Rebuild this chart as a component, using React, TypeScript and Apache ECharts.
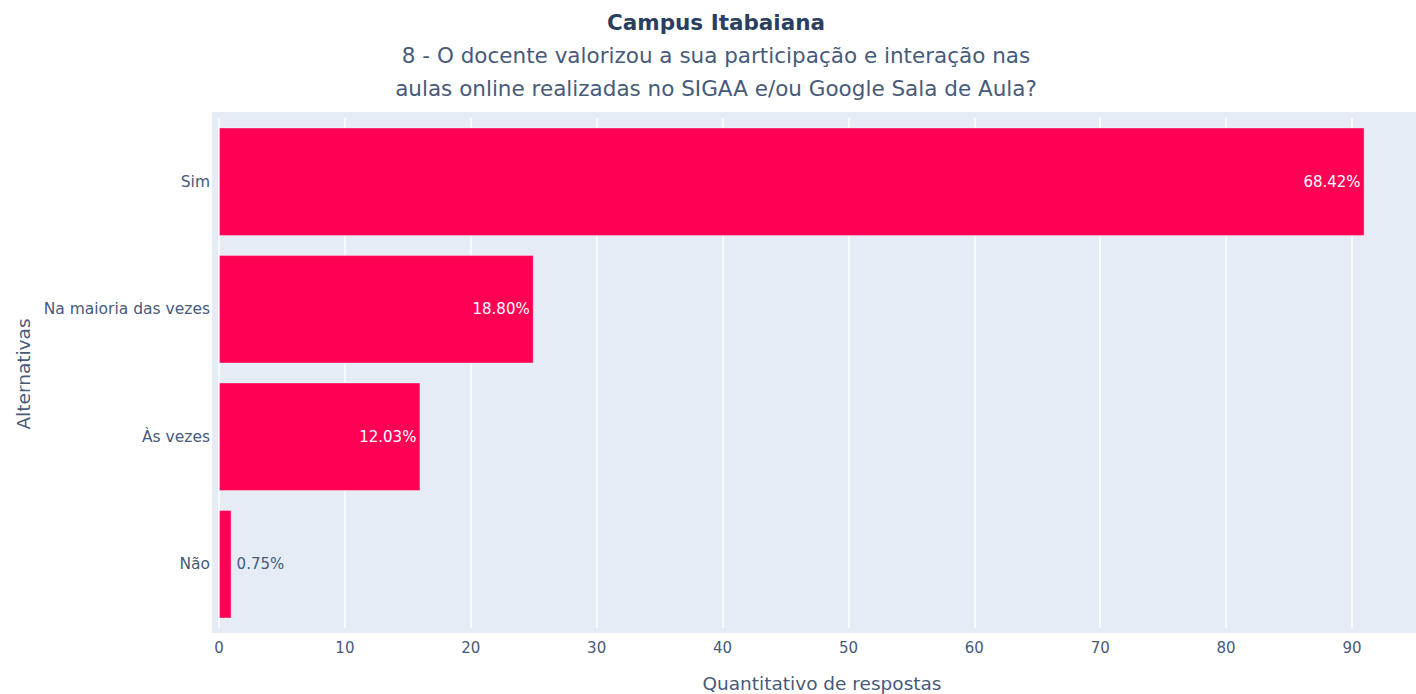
import React, { useEffect, useRef } from "react";
import * as echarts from "echarts";

const categories = ["Sim", "Na maioria das vezes", "Às vezes", "Não"];
const counts = [91, 25, 16, 1];
const percentLabels = ["68.42%", "18.80%", "12.03%", "0.75%"];
const xTicks = [0, 10, 20, 30, 40, 50, 60, 70, 80, 90];
const titleText = "Campus Itabaiana";
const subtitleLines = [
  "8 - O docente valorizou a sua participação e interação nas",
  "aulas online realizadas no SIGAA e/ou Google Sala de Aula?",
];
const xAxisTitle = "Quantitativo de respostas";
const yAxisTitle = "Alternativas";

const TITLE_COLOR = "#2a3f5f";
const TEXT = "#475a7a";
const FONT = "'DejaVu Sans', Verdana, sans-serif";

export default function App() {
  const ref = useRef<HTMLDivElement>(null);
  useEffect(() => {
    if (!ref.current) return;
    const chart = echarts.init(ref.current, undefined, { renderer: "svg" });
    const data = counts.map((v) => ({
      value: v,
      label:
        v >= 5
          ? { position: "insideRight", color: "#ffffff", distance: 4 }
          : { position: "right", color: TEXT, distance: 5 },
    }));
    const centeredText = (
      text: string,
      x: number,
      y: number,
      size: number,
      color: string,
      weight = "normal",
      rotation = 0
    ) => ({
      type: "text",
      x,
      y,
      rotation,
      silent: true,
      style: {
        text,
        fill: color,
        font: `${weight} ${size}px ${FONT}`,
        textAlign: "center",
        textVerticalAlign: "middle",
      },
    });
    chart.setOption({
      animation: false,
      textStyle: { fontFamily: FONT },
      graphic: [
        {
          type: "rect",
          z: -10,
          silent: true,
          shape: { x: 212, y: 112, width: 1204, height: 521 },
          style: { fill: "#E5ECF6" },
        },
        centeredText(titleText, 716, 22, 21.5, TITLE_COLOR, "bold"),
        centeredText(subtitleLines[0], 716, 55, 21.5, TEXT),
        centeredText(subtitleLines[1], 716, 88, 21.5, TEXT),
        centeredText(xAxisTitle, 822, 683, 18.5, TEXT),
        centeredText(yAxisTitle, 23, 374, 18.5, TEXT, "normal", Math.PI / 2),
      ],
      grid: { left: 219, top: 118, width: 1133, height: 510, containLabel: false },
      xAxis: {
        type: "value",
        min: xTicks[0],
        max: xTicks[xTicks.length - 1],
        interval: 10,
        axisLine: { show: false },
        axisTick: { show: false },
        axisLabel: { color: TEXT, fontSize: 15, margin: 12, fontFamily: FONT },
        splitLine: { show: true, lineStyle: { color: "#ffffff", width: 1.5 } },
      },
      yAxis: {
        type: "category",
        data: categories,
        inverse: true,
        axisLine: { show: false },
        axisTick: { show: false },
        axisLabel: { color: TEXT, fontSize: 15.5, margin: 9, fontFamily: FONT },
        splitLine: { show: false },
      },
      series: [
        {
          type: "bar",
          data,
          clip: false,
          barCategoryGap: "15%",
          itemStyle: { color: "#FF0055", borderColor: "rgba(255,255,255,0.35)", borderWidth: 1 },
          label: {
            show: true,
            fontSize: 15,
            fontFamily: FONT,
            formatter: (p: any) => percentLabels[p.dataIndex],
          },
        },
      ],
    });
    return () => chart.dispose();
  }, []);
  return (
    <div
      ref={ref}
      style={{ position: "fixed", left: 0, top: 0, width: 1416, height: 694, background: "#fff" }}
    />
  );
}
